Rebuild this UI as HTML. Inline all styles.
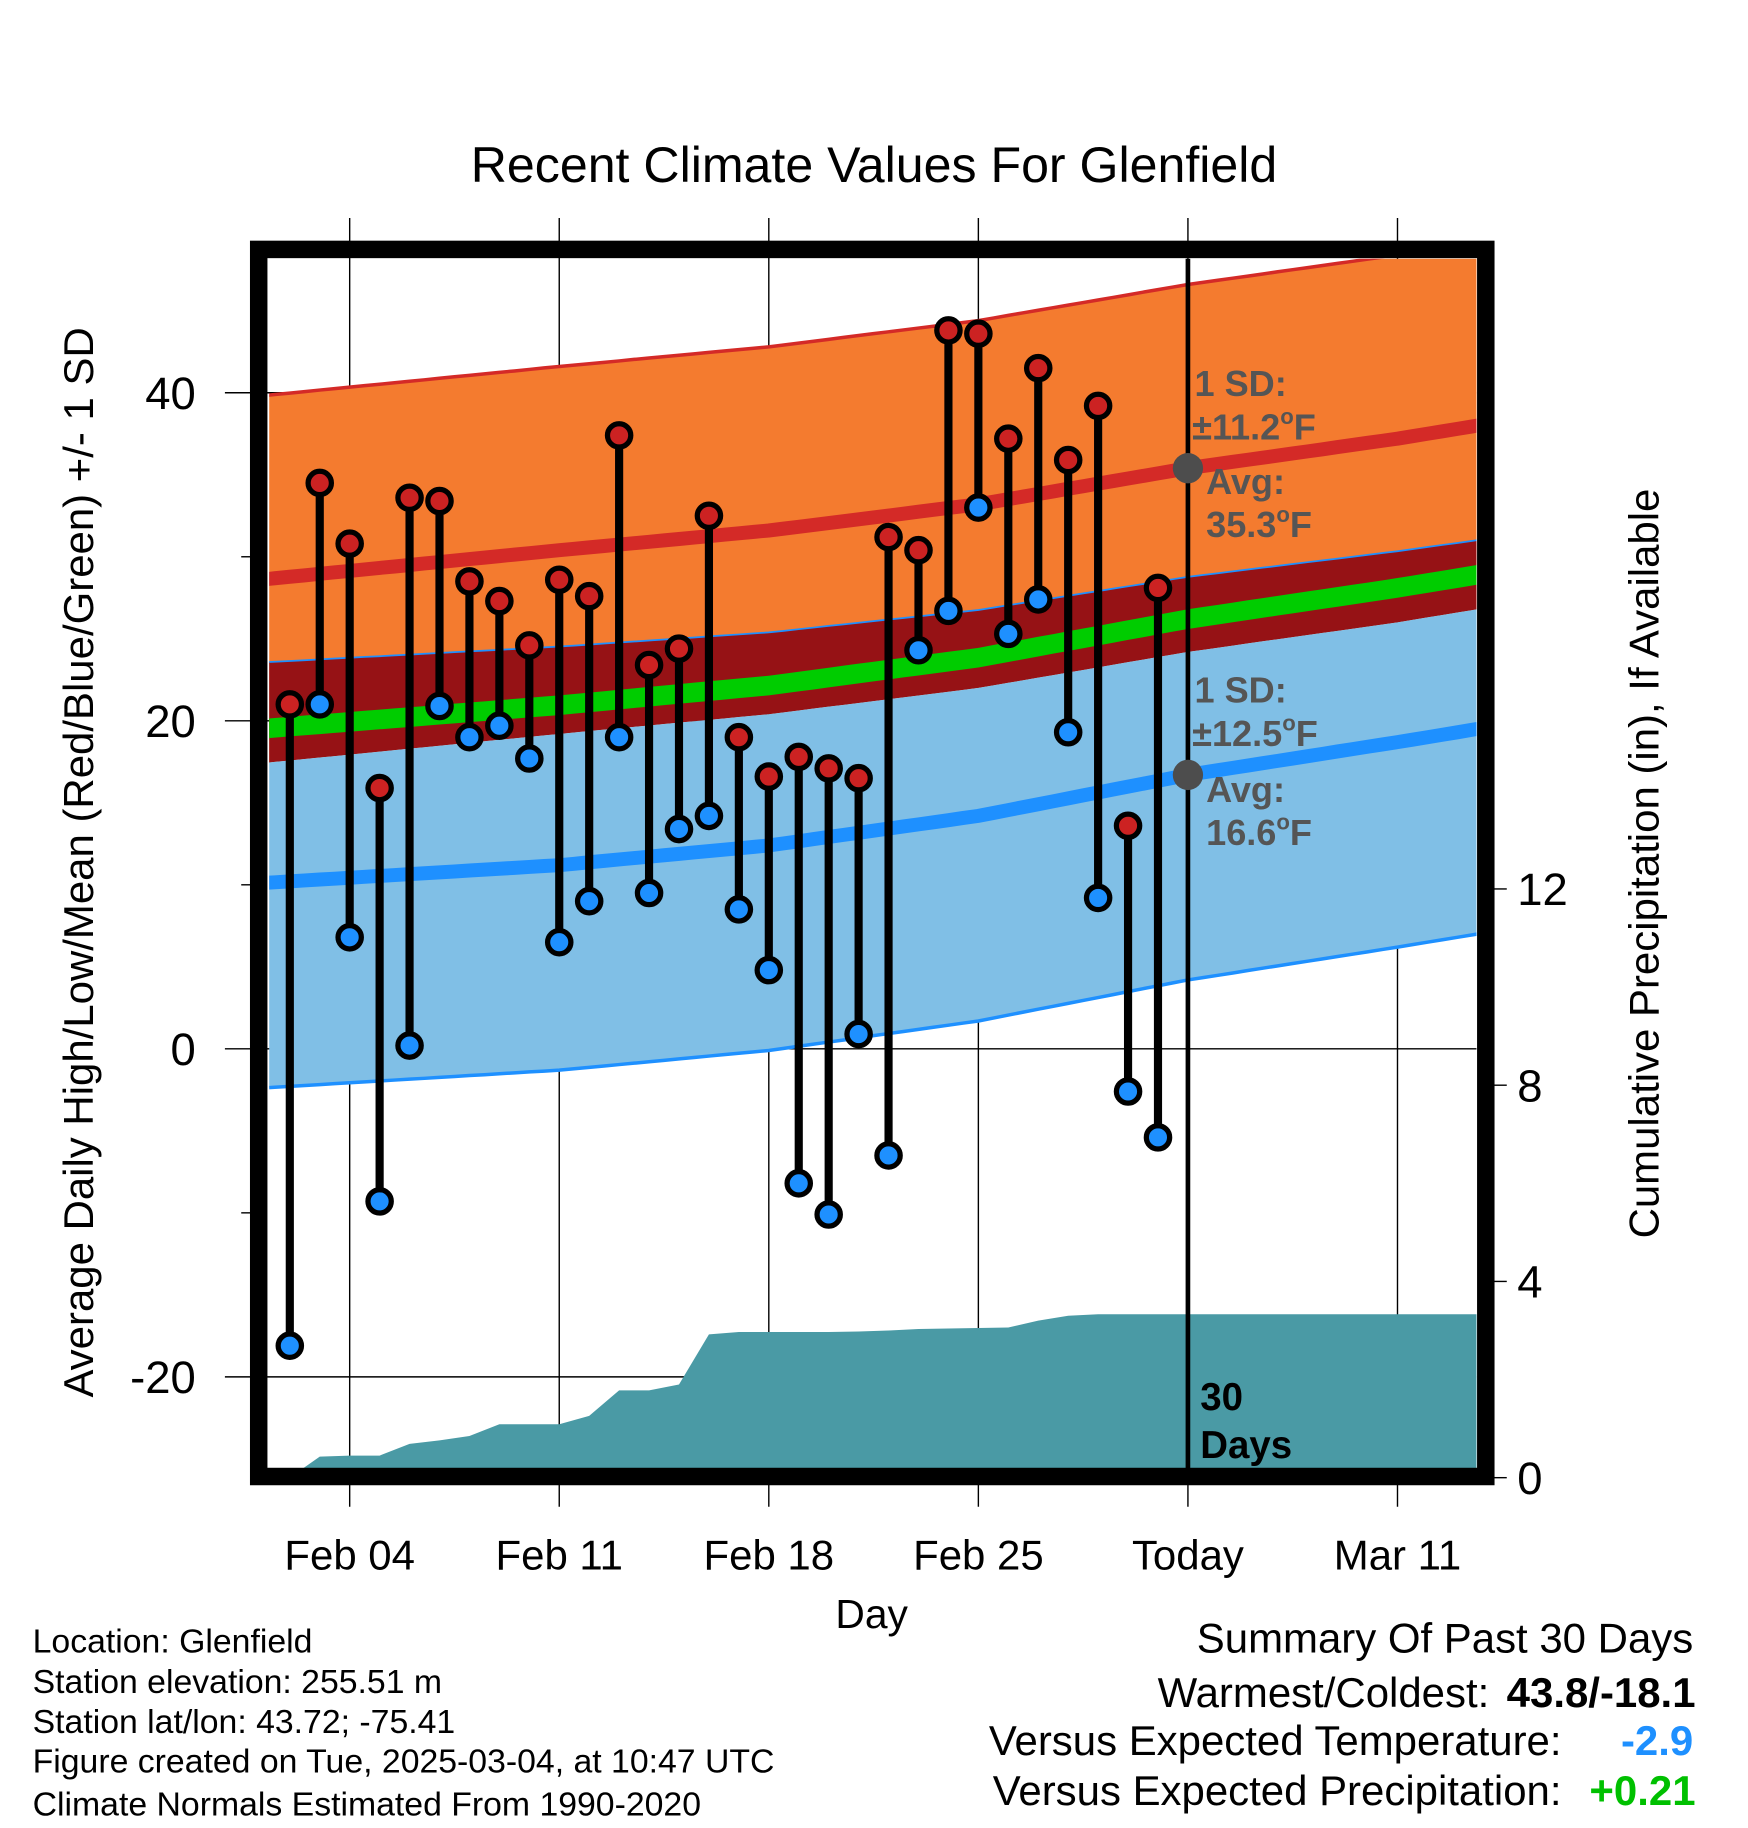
<!DOCTYPE html>
<html><head><meta charset="utf-8"><style>
html,body{margin:0;padding:0;background:#fff}
svg{display:block}
text{font-family:"Liberation Sans",sans-serif}
</style></head><body>
<svg id="chart" width="1748" height="1828" viewBox="0 0 1500 1568.6" xmlns="http://www.w3.org/2000/svg">
<defs><clipPath id="plotclip"><rect x="231" y="222" width="1036" height="1038"/></clipPath></defs>
<rect x="0" y="0" width="1500" height="1568.6" fill="#fff"/>
<text x="750" y="156" font-size="43" text-anchor="middle">Recent Climate Values For Glenfield</text>
<g id="grid"></g>
<g id="fills" clip-path="url(#plotclip)"></g>
<g id="marks"></g>
<rect x="222" y="214" width="1053" height="1053" fill="none" stroke="#000" stroke-width="15"/>
<g id="axes"></g>
<text transform="translate(80,740) rotate(-90)" font-size="36" text-anchor="middle">Average Daily High/Low/Mean (Red/Blue/Green) +/- 1 SD</text>
<text transform="translate(1423,741) rotate(-90)" font-size="36" text-anchor="middle">Cumulative Precipitation (in), If Available</text>
<text x="748" y="1397" font-size="35" text-anchor="middle">Day</text>
<g font-size="29">
<text x="28" y="1418">Location: Glenfield</text>
<text x="28" y="1453">Station elevation: 255.51 m</text>
<text x="28" y="1487">Station lat/lon: 43.72; -75.41</text>
<text x="28" y="1521">Figure created on Tue, 2025-03-04, at 10:47 UTC</text>
<text x="28" y="1558">Climate Normals Estimated From 1990-2020</text>
</g>
<g font-size="36" text-anchor="end">
<text x="1453" y="1418">Summary Of Past 30 Days</text>
<text x="1278" y="1465">Warmest/Coldest:</text>
<text x="1455" y="1465" font-weight="bold">43.8/-18.1</text>
<text x="1340" y="1506">Versus Expected Temperature:</text>
<text x="1453" y="1506" font-weight="bold" fill="#1e90ff">-2.9</text>
<text x="1340" y="1549">Versus Expected Precipitation:</text>
<text x="1455" y="1549" font-weight="bold" fill="#00c000">+0.21</text>
</g>
</svg>
<script>
const days = ["Feb 2","Feb 3","Feb 4","Feb 5","Feb 6","Feb 7","Feb 8","Feb 9","Feb 10","Feb 11","Feb 12","Feb 13","Feb 14","Feb 15","Feb 16","Feb 17","Feb 18","Feb 19","Feb 20","Feb 21","Feb 22","Feb 23","Feb 24","Feb 25","Feb 26","Feb 27","Feb 28","Mar 1","Mar 2","Mar 3"];
const highs = [21.0,34.5,30.8,15.9,33.6,33.4,28.5,27.3,24.6,28.6,27.6,37.4,23.4,24.4,32.5,19.0,16.6,17.8,17.1,16.5,31.2,30.4,43.8,43.6,37.2,41.5,35.9,39.2,13.6,28.1];
const lows = [-18.1,21.0,6.8,-9.3,0.2,20.9,19.0,19.7,17.7,6.5,9.0,19.0,9.5,13.4,14.2,8.5,4.8,-8.2,-10.1,0.9,-6.5,24.3,26.7,33.0,25.3,27.4,19.3,9.2,-2.6,-5.4];
const precip = [0.0,0.43,0.45,0.45,0.69,0.76,0.85,1.09,1.09,1.09,1.26,1.78,1.78,1.9,2.92,2.97,2.97,2.97,2.97,2.98,3.0,3.03,3.04,3.05,3.06,3.2,3.3,3.33,3.33,3.33];
const normDays = [0,10,17,24,31,38,42];
const normHigh = [28.6,30.4,31.6,33.2,35.4,37.2,38.4];
const normLow = [10.1,11.2,12.4,14.2,16.7,18.7,19.9];
const xTickLabels = ["Feb 04","Feb 11","Feb 18","Feb 25","Today","Mar 11"];
const xTickDays = [3,10,17,24,31,38];
const yTicks = [40,20,0,-20];
const yMinor = [30,10,-10];
const pTicks = [12,8,4,0];
const highSD = 11.2, lowSD = 12.5;

const NS="http://www.w3.org/2000/svg";
const X = d => 223 + d*25.69;
const Y = v => 900 - v*14.075;
const P = v => 1268 - v*42.1;
function el(tag, attrs, parent){const e=document.createElementNS(NS,tag);for(const k in attrs)e.setAttribute(k,attrs[k]);parent.appendChild(e);return e;}
const grid=document.getElementById('grid'), fills=document.getElementById('fills'), marks=document.getElementById('marks'), axes=document.getElementById('axes');

function interp(arr,d){for(let i=0;i<normDays.length-1;i++){if(d<=normDays[i+1]){const t=(d-normDays[i])/(normDays[i+1]-normDays[i]);return arr[i]+t*(arr[i+1]-arr[i]);}}return arr[arr.length-1];}
const samples=[];for(let d=0;d<=42;d+=0.5)samples.push(d);
function line(f){return samples.map(d=>X(d).toFixed(1)+','+Y(f(d)).toFixed(1));}
function band(fTop,fBot){return line(fTop).concat(line(fBot).reverse()).join(' ');}
const hi=d=>interp(normHigh,d), lo=d=>interp(normLow,d), mn=d=>(hi(d)+lo(d))/2;
const mnTop=d=>mn(d)+4.2-2.0*(d/42);

xTickDays.forEach((d,i)=>{
  const g=el('line',{x1:X(d),x2:X(d),y1:187,y2:1293,stroke:'#000','stroke-width':1.2},grid);
  
  
  const t=el('text',{x:X(d),y:1347,'font-size':36,'text-anchor':'middle'},axes);t.textContent=xTickLabels[i];
  
  
});
yTicks.forEach(v=>{
  const g=el('line',{x1:193,x2:1267,y1:Y(v),y2:Y(v),stroke:'#000','stroke-width':1.2},grid);
  
  
  const t=el('text',{x:168,y:Y(v)+14,'font-size':39,'text-anchor':'end'},axes);t.textContent=v;
  
  
});
yMinor.forEach(v=>{
  const g=el('line',{x1:207,x2:216,y1:Y(v),y2:Y(v),stroke:'#000','stroke-width':1.2},axes);
  
  
});
pTicks.forEach(v=>{
  const g=el('line',{x1:1280,x2:1293,y1:P(v),y2:P(v),stroke:'#000','stroke-width':1.2},axes);
  
  
  const t=el('text',{x:1302,y:P(v)+14,'font-size':39},axes);t.textContent=v;
  
  
});

let e;
e=el('polygon',{points:band(d=>hi(d)+highSD,d=>hi(d)-highSD),fill:'#f47b2f'},fills);


e=el('polygon',{points:band(mnTop,d=>hi(d)-highSD),fill:'#961215'},fills);


e=el('polygon',{points:band(d=>mn(d)+0.75,d=>mn(d)-0.45),fill:'#00cc00'},fills);


e=el('polygon',{points:band(d=>hi(d)-highSD,d=>lo(d)-lowSD),fill:'#80bfe6'},fills);


e=el('polyline',{points:line(mnTop).join(' '),fill:'none',stroke:'#1e90ff','stroke-width':1.5},fills);


e=el('polyline',{points:line(d=>hi(d)+highSD).join(' '),fill:'none',stroke:'#d42a27','stroke-width':3},fills);


e=el('polyline',{points:line(d=>lo(d)-lowSD).join(' '),fill:'none',stroke:'#1e90ff','stroke-width':3},fills);


e=el('polyline',{points:line(hi).join(' '),fill:'none',stroke:'#d42a27','stroke-width':12},fills);


e=el('polyline',{points:line(lo).join(' '),fill:'none',stroke:'#1e90ff','stroke-width':12},fills);



const pp=[X(0)+','+P(precip[0])];
precip.forEach((v,i)=>pp.push(X(i+1)+','+P(v)));
pp.push(X(43)+','+P(precip[precip.length-1]));
pp.push(X(43)+','+P(-1));pp.push(X(0)+','+P(-1));
e=el('polygon',{points:pp.join(' '),fill:'#4a9aa5'},fills);



e=el('line',{x1:X(31),x2:X(31),y1:222,y2:1260,stroke:'#000','stroke-width':4},marks);


e=el('circle',{cx:X(31),cy:Y(hi(31)),r:13,fill:'#4d4d4d'},marks);


e=el('circle',{cx:X(31),cy:Y(lo(31)),r:13,fill:'#4d4d4d'},marks);



highs.forEach((h,i)=>{
  const x=X(i+1);
  const l=el('line',{x1:x,x2:x,y1:Y(h),y2:Y(lows[i]),stroke:'#000','stroke-width':7},marks);
  
  
});
highs.forEach((h,i)=>{
  const x=X(i+1);
  const c1=el('circle',{cx:x,cy:Y(h),r:10,fill:'#cc2222',stroke:'#000','stroke-width':4.5},marks);
  
  
  const c2=el('circle',{cx:x,cy:Y(lows[i]),r:10,fill:'#1e90ff',stroke:'#000','stroke-width':4.5},marks);
  
  
});

function ann(txt,x,y,name,color,sup,fs){const t=el('text',{x:x,y:y,'font-size':fs||31,'font-weight':'bold',fill:color},marks);
  if(sup){t.appendChild(document.createTextNode(txt));const s=el('tspan',{'font-size':19,dy:-13},t);s.textContent='o';const s2=el('tspan',{dy:13},t);s2.textContent='F';}
  else t.textContent=txt;
  
  }
ann('1 SD:',1025,340,'high-sd-label','#555');
ann('\u00b111.2',1023,377,'high-sd-value','#555',true);
ann('Avg:',1035,424,'high-avg-label','#555');
ann('35.3',1035,461,'high-avg-value','#555',true);
ann('1 SD:',1025,603,'low-sd-label','#555');
ann('\u00b112.5',1023,640,'low-sd-value','#555',true);
ann('Avg:',1035,688,'low-avg-label','#555');
ann('16.6',1035,725,'low-avg-value','#555',true);
ann('30',1030,1210,'days-count-label','#000',false,33);
ann('Days',1030,1251,'days-unit-label','#000',false,33);
</script>
</body></html>
